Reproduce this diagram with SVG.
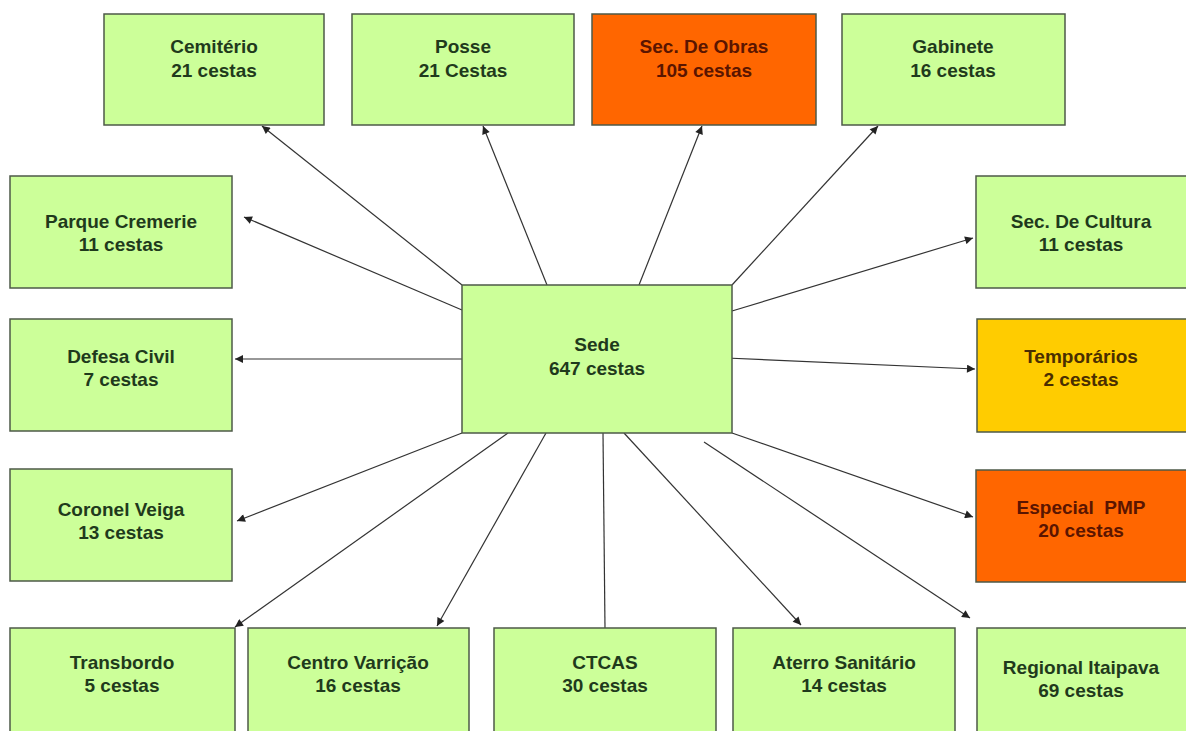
<svg xmlns="http://www.w3.org/2000/svg" width="1186" height="731" viewBox="0 0 1186 731">
<style>
.box{stroke:#4d5a48;stroke-width:1.5}
.g{fill:#ccff99}
.o{fill:#ff6600}
.y{fill:#ffcc00}
text{font-family:"Liberation Sans",Arial,sans-serif;font-weight:bold;font-size:19px;text-anchor:middle;white-space:pre}
.tg{fill:#1f3a1c}
.to{fill:#5a1500}
.ty{fill:#4a2e00}
.c line{stroke:#333;stroke-width:1.2}
</style>
<defs>
<marker id="ah" viewBox="0 0 10 10" refX="10" refY="5" markerWidth="10" markerHeight="8" markerUnits="userSpaceOnUse" orient="auto">
<path d="M0,0 L10,5 L0,10 z" fill="#222"/>
</marker>
</defs>
<rect width="1186" height="731" fill="#fff"/>
<g class="c">
<line x1="462" y1="285" x2="262" y2="126" marker-end="url(#ah)"/>
<line x1="547" y1="285" x2="483" y2="126" marker-end="url(#ah)"/>
<line x1="639" y1="285" x2="702" y2="126" marker-end="url(#ah)"/>
<line x1="732" y1="285" x2="878" y2="126" marker-end="url(#ah)"/>
<line x1="462" y1="310" x2="244" y2="217" marker-end="url(#ah)"/>
<line x1="732" y1="311" x2="973" y2="238" marker-end="url(#ah)"/>
<line x1="462" y1="359" x2="235" y2="359" marker-end="url(#ah)"/>
<line x1="726" y1="358" x2="975" y2="369" marker-end="url(#ah)"/>
<line x1="462" y1="433" x2="237" y2="521" marker-end="url(#ah)"/>
<line x1="732" y1="433" x2="973" y2="517" marker-end="url(#ah)"/>
<line x1="508" y1="433" x2="235" y2="627" marker-end="url(#ah)"/>
<line x1="546" y1="433" x2="437" y2="626" marker-end="url(#ah)"/>
<line x1="603" y1="433" x2="605" y2="628"/>
<line x1="624" y1="433" x2="801" y2="625" marker-end="url(#ah)"/>
<line x1="704" y1="442" x2="970" y2="618" marker-end="url(#ah)"/>
</g>
<g id="cemiterio"><rect class="box g" x="104" y="14" width="220" height="111"/><text class="tg" x="214" y="53">Cemitério</text><text class="tg" x="214" y="77">21 cestas</text></g>
<g id="posse"><rect class="box g" x="352" y="14" width="222" height="111"/><text class="tg" x="463" y="53">Posse</text><text class="tg" x="463" y="77">21 Cestas</text></g>
<g id="obras"><rect class="box o" x="592" y="14" width="224" height="111"/><text class="to" x="704" y="53">Sec. De Obras</text><text class="to" x="704" y="77">105 cestas</text></g>
<g id="gabinete"><rect class="box g" x="842" y="14" width="223" height="111"/><text class="tg" x="953" y="53">Gabinete</text><text class="tg" x="953" y="77">16 cestas</text></g>
<g id="parque"><rect class="box g" x="10" y="176" width="222" height="112"/><text class="tg" x="121" y="228">Parque Cremerie</text><text class="tg" x="121" y="251">11 cestas</text></g>
<g id="cultura"><rect class="box g" x="976" y="176" width="215" height="112"/><text class="tg" x="1081" y="228">Sec. De Cultura</text><text class="tg" x="1081" y="251">11 cestas</text></g>
<g id="defesa"><rect class="box g" x="10" y="319" width="222" height="112"/><text class="tg" x="121" y="363">Defesa Civil</text><text class="tg" x="121" y="386">7 cestas</text></g>
<g id="sede"><rect class="box g" x="462" y="285" width="270" height="148"/><text class="tg" x="597" y="351">Sede</text><text class="tg" x="597" y="375">647 cestas</text></g>
<g id="temporarios"><rect class="box y" x="977" y="319" width="214" height="113"/><text class="ty" x="1081" y="363">Temporários</text><text class="ty" x="1081" y="386">2 cestas</text></g>
<g id="coronel"><rect class="box g" x="10" y="469" width="222" height="112"/><text class="tg" x="121" y="516">Coronel Veiga</text><text class="tg" x="121" y="539">13 cestas</text></g>
<g id="especial"><rect class="box o" x="976" y="470" width="215" height="112"/><text class="to" x="1081" y="514">Especial  PMP</text><text class="to" x="1081" y="537">20 cestas</text></g>
<g id="transbordo"><rect class="box g" x="10" y="628" width="225" height="110"/><text class="tg" x="122" y="669">Transbordo</text><text class="tg" x="122" y="692">5 cestas</text></g>
<g id="varricao"><rect class="box g" x="248" y="628" width="221" height="110"/><text class="tg" x="358" y="669">Centro Varrição</text><text class="tg" x="358" y="692">16 cestas</text></g>
<g id="ctcas"><rect class="box g" x="494" y="628" width="222" height="110"/><text class="tg" x="605" y="669">CTCAS</text><text class="tg" x="605" y="692">30 cestas</text></g>
<g id="aterro"><rect class="box g" x="733" y="628" width="222" height="110"/><text class="tg" x="844" y="669">Aterro Sanitário</text><text class="tg" x="844" y="692">14 cestas</text></g>
<g id="regional"><rect class="box g" x="977" y="628" width="214" height="110"/><text class="tg" x="1081" y="674">Regional Itaipava</text><text class="tg" x="1081" y="697">69 cestas</text></g>
</svg>
